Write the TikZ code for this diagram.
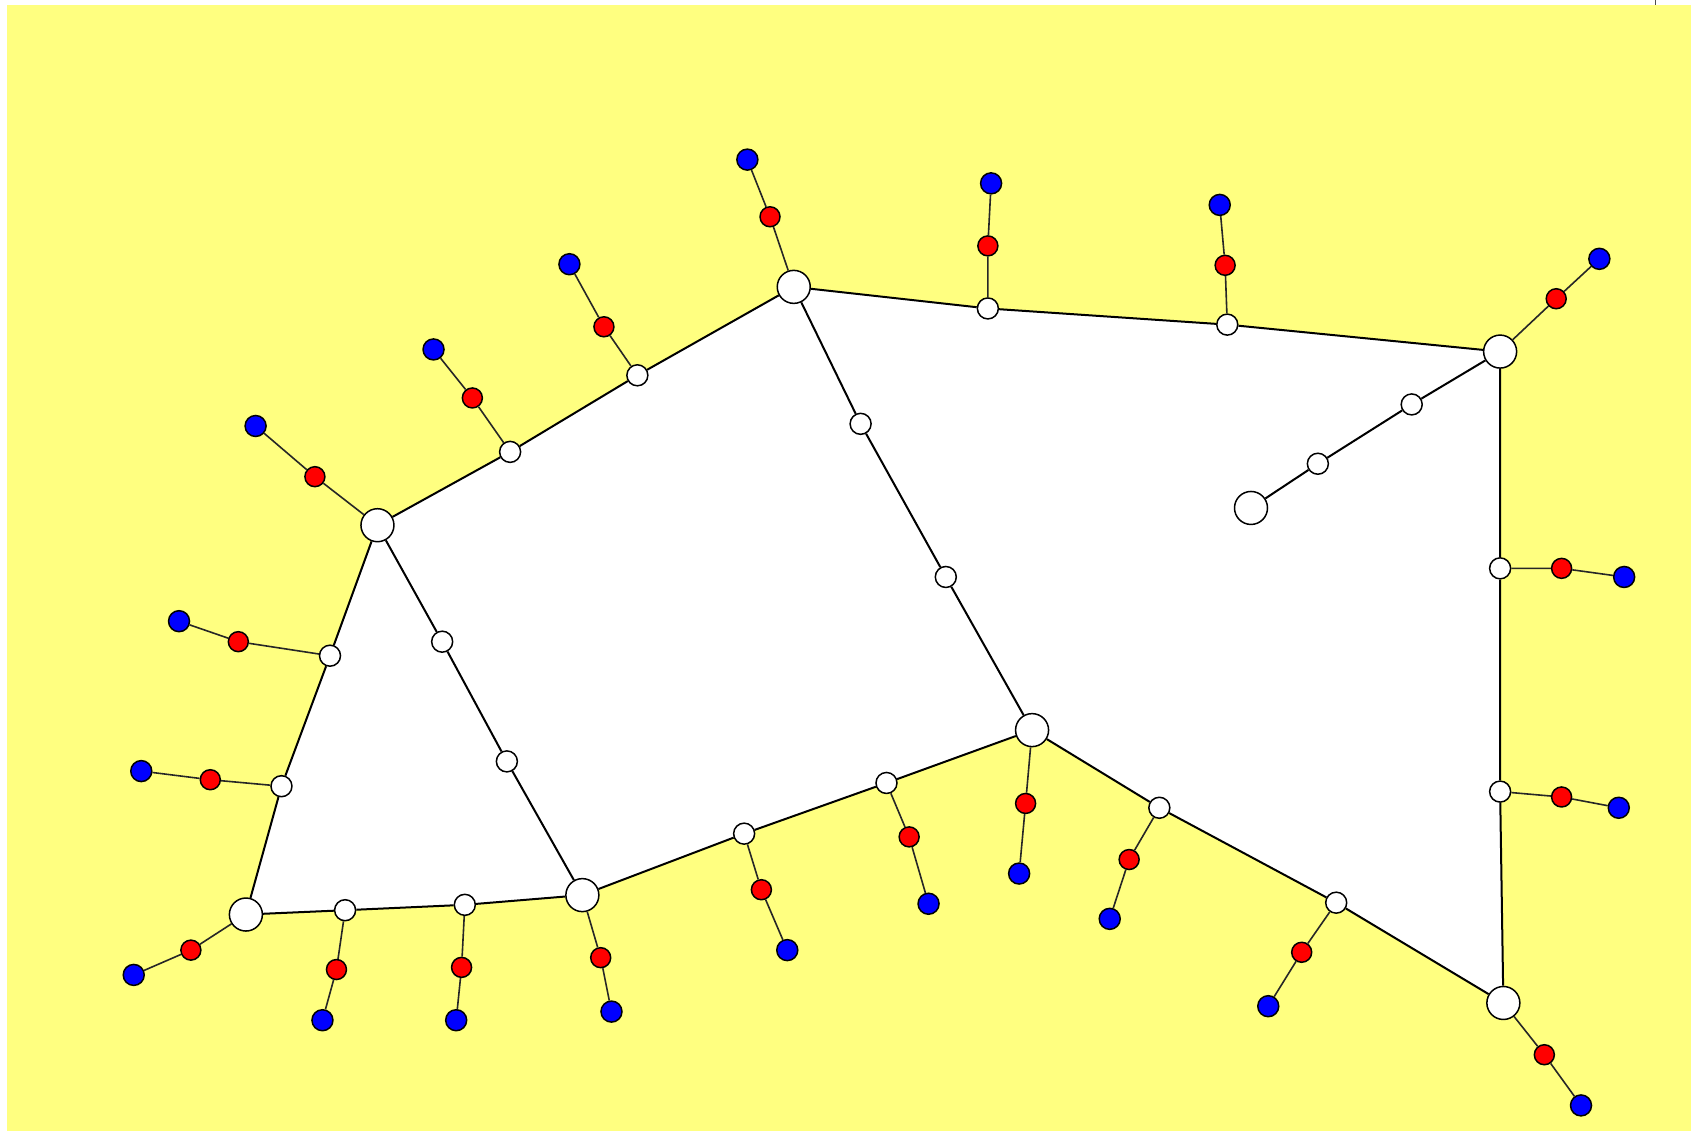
\documentclass[tikz,border=0pt]{standalone}
\usetikzlibrary{backgrounds}
\definecolor{bgyellow}{RGB}{255,255,128}
\begin{document}
\begin{tikzpicture}[x=1.07844pt,y=-1.07844pt,
  big/.style={circle,draw=black,fill=white,line width=1.5pt,inner sep=0pt,minimum size=33pt},
  small/.style={circle,draw=black,fill=white,line width=1.5pt,inner sep=0pt,minimum size=21pt},
  rednode/.style={circle,draw=black,fill=red,line width=1.5pt,inner sep=0pt,minimum size=20pt},
  bluenode/.style={circle,draw=black,fill=blue,line width=1.5pt,inner sep=0pt,minimum size=21pt},
  edge/.style={line width=2pt,black},
  pend/.style={line width=1.6pt,black!85}]
\useasboundingbox (0,0) rectangle (1568,1048.8);
% big nodes
\node[big] (A) at (736,266) {};
\node[big] (B) at (1391,326) {};
\node[big] (C) at (350,487) {};
\node[big] (D) at (957,677) {};
\node[big] (E) at (228,848) {};
\node[big] (F) at (540,830) {};
\node[big] (G) at (1394,930) {};
\node[big] (H) at (1160,471) {};
% small nodes on edges
\node[small] (ab1) at (916,286) {};
\node[small] (ab2) at (1138,301) {};
\node[small] (ca1) at (473,419) {};
\node[small] (ca2) at (591,348) {};
\node[small] (ad1) at (798,393) {};
\node[small] (ad2) at (877,535) {};
\node[small] (cf1) at (410,595) {};
\node[small] (cf2) at (470,706) {};
\node[small] (ce1) at (306,608) {};
\node[small] (ce2) at (261,729) {};
\node[small] (ef1) at (320,844) {};
\node[small] (ef2) at (431,839) {};
\node[small] (fd1) at (690,773) {};
\node[small] (fd2) at (822,726) {};
\node[small] (dg1) at (1075,749) {};
\node[small] (dg2) at (1239,837) {};
\node[small] (bg1) at (1391,527) {};
\node[small] (bg2) at (1391,734) {};
\node[small] (bh1) at (1309,375) {};
\node[small] (bh2) at (1222,430) {};
\begin{scope}[on background layer]
\fill[bgyellow] (6.5,4.6) rectangle (1568,1048.8);
\fill[white] (A.center) -- (ab1.center) -- (ab2.center) -- (B.center)
  -- (bg1.center) -- (bg2.center) -- (G.center) -- (dg2.center) -- (dg1.center)
  -- (D.center) -- (fd2.center) -- (fd1.center) -- (F.center) -- (ef2.center)
  -- (ef1.center) -- (E.center) -- (ce2.center) -- (ce1.center) -- (C.center)
  -- (ca1.center) -- (ca2.center) -- cycle;
\end{scope}
\draw[black!70,line width=1pt] (1535.5,0) -- (1535.5,4.2);
% edges
\draw[edge] (A) -- (ab1) -- (ab2) -- (B);
\draw[edge] (C) -- (ca1) -- (ca2) -- (A);
\draw[edge] (A) -- (ad1) -- (ad2) -- (D);
\draw[edge] (C) -- (cf1) -- (cf2) -- (F);
\draw[edge] (C) -- (ce1) -- (ce2) -- (E);
\draw[edge] (E) -- (ef1) -- (ef2) -- (F);
\draw[edge] (F) -- (fd1) -- (fd2) -- (D);
\draw[edge] (D) -- (dg1) -- (dg2) -- (G);
\draw[edge] (B) -- (bg1) -- (bg2) -- (G);
\draw[edge] (B) -- (bh1) -- (bh2) -- (H);
% pendants: red then blue
\node[rednode] (rA) at (714,201) {};   \node[bluenode] (uA) at (693,148) {};
\node[rednode] (rab1) at (916,228) {}; \node[bluenode] (uab1) at (919,170) {};
\node[rednode] (rab2) at (1136,246) {};\node[bluenode] (uab2) at (1131,190) {};
\node[rednode] (rB) at (1443,277) {};  \node[bluenode] (uB) at (1483,240) {};
\node[rednode] (rca2) at (560,303) {}; \node[bluenode] (uca2) at (528,245) {};
\node[rednode] (rca1) at (438,369) {}; \node[bluenode] (uca1) at (402,324) {};
\node[rednode] (rC) at (292,442) {};   \node[bluenode] (uC) at (237,395) {};
\node[rednode] (rce1) at (221,595) {}; \node[bluenode] (uce1) at (166,576) {};
\node[rednode] (rce2) at (195,723) {}; \node[bluenode] (uce2) at (131,715) {};
\node[rednode] (rE) at (177,881) {};   \node[bluenode] (uE) at (124,904) {};
\node[rednode] (ref1) at (312,899) {}; \node[bluenode] (uef1) at (299,946) {};
\node[rednode] (ref2) at (428,897) {}; \node[bluenode] (uef2) at (423,946) {};
\node[rednode] (rF) at (557,888) {};   \node[bluenode] (uF) at (567,938) {};
\node[rednode] (rfd1) at (706,825) {}; \node[bluenode] (ufd1) at (730,881) {};
\node[rednode] (rfd2) at (843,776) {}; \node[bluenode] (ufd2) at (861,838) {};
\node[rednode] (rD) at (951,745) {};   \node[bluenode] (uD) at (945,810) {};
\node[rednode] (rdg1) at (1047,797) {};\node[bluenode] (udg1) at (1029,852) {};
\node[rednode] (rdg2) at (1207,883) {};\node[bluenode] (udg2) at (1176,933) {};
\node[rednode] (rG) at (1432,978) {};  \node[bluenode] (uG) at (1466,1025) {};
\node[rednode] (rbg1) at (1448,527) {};\node[bluenode] (ubg1) at (1506,535) {};
\node[rednode] (rbg2) at (1448,739) {};\node[bluenode] (ubg2) at (1501,749) {};
\foreach \s/\r/\u in {A/rA/uA, ab1/rab1/uab1, ab2/rab2/uab2, B/rB/uB,
  ca2/rca2/uca2, ca1/rca1/uca1, C/rC/uC, ce1/rce1/uce1, ce2/rce2/uce2,
  E/rE/uE, ef1/ref1/uef1, ef2/ref2/uef2, F/rF/uF, fd1/rfd1/ufd1,
  fd2/rfd2/ufd2, D/rD/uD, dg1/rdg1/udg1, dg2/rdg2/udg2, G/rG/uG,
  bg1/rbg1/ubg1, bg2/rbg2/ubg2}
  \draw[pend] (\s) -- (\r) -- (\u);
\end{tikzpicture}
\end{document}
